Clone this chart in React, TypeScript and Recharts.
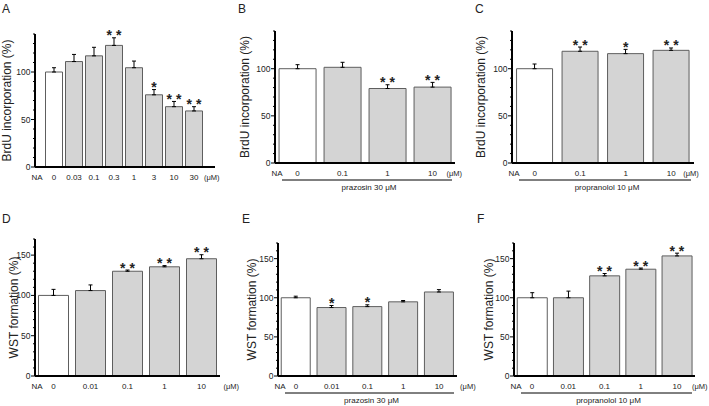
import React from "react";
import { Bar, Cell, ComposedChart, ErrorBar, LabelList, Line, XAxis, YAxis } from "recharts";

const FONT = '"Liberation Sans", Arial, Helvetica, sans-serif';

// A: NA dose response, BrdU
const dosesA = ["0", "0.03", "0.1", "0.3", "1", "3", "10", "30"];
const brduA = [100, 111, 117, 128, 104.5, 76, 63.5, 59];
const errA = [4.5, 7.5, 9, 8, 7, 5.5, 5.5, 4.5];
const sigA = ["", "", "", "**", "", "*", "**", "**"];

// B: + prazosin, BrdU
const dosesB = ["0", "0.1", "1", "10"];
const brduB = [100, 101.5, 79, 80.5];
const errB = [4.3, 5.3, 4, 5];
const sigB = ["", "", "**", "**"];

// C: + propranolol, BrdU
const dosesC = ["0", "0.1", "1", "10"];
const brduC = [100, 118.5, 116, 119.5];
const errC = [5, 4.5, 4.5, 2.5];
const sigC = ["", "**", "*", "**"];

// D: NA dose response, WST
const dosesD = ["0", "0.01", "0.1", "1", "10"];
const wstD = [100, 106, 130, 135.5, 145.5];
const errD = [7.5, 7, 1.5, 1.5, 5];
const sigD = ["", "", "**", "**", "**"];

// E: + prazosin, WST
const dosesE = ["0", "0.01", "0.1", "1", "10"];
const wstE = [100, 87.5, 88.7, 94.8, 107.4];
const errE = [2, 2.6, 2.3, 1.7, 3];
const sigE = ["", "*", "*", "", ""];

// F: + propranolol, WST
const dosesF = ["0", "0.01", "0.1", "1", "10"];
const wstF = [100, 100, 128, 136.5, 153.5];
const errF = [6.5, 8.5, 3, 1.5, 3.5];
const sigF = ["", "", "**", "**", "**"];

const yTicksBrdU = [0, 10, 20, 30, 40, 50, 60, 70, 80, 90, 100, 110, 120, 130, 140];
const yLabelsBrdU = [0, 50, 100];
const yTicksWst = [0, 10, 20, 30, 40, 50, 60, 70, 80, 90, 100, 110, 120, 130, 140, 150, 160, 170];
const yLabelsWst = [0, 50, 100, 150];

const StarLabel = (props: any) => {
  const { value } = props;
  if (!value) return null;
  const x = props.x ?? props.viewBox?.x;
  const y = props.y ?? props.viewBox?.y;
  return (
    <text x={x} y={y + 2.5} textAnchor="middle" fontSize={14} fontWeight="bold" fontFamily={FONT} fill="#222">
      {String(value).split("").join(" ")}
    </text>
  );
};

function Panel(p: any) {
  const rows = p.doses.map((d: string, i: number) => ({
    dose: d,
    value: p.values[i],
    err: [0, p.errs[i]],
    top: p.values[i] + p.errs[i],
    sig: p.sigs[i],
  }));
  const yAxisW = p.plot.x - p.left;
  const mTop = p.plot.y - p.top;
  const xAxisH = p.height - mTop - p.plot.h;
  const mRight = p.width - yAxisW - p.plot.w;
  const last = p.doses.length - 1;

  const xTick = (t: any) => (
    <g>
      <text x={t.x} y={t.y + 12.5} textAnchor="middle" fontSize={8} fontFamily={FONT} fill="#222">
        {t.payload.value}
      </text>
      {t.index === last && (
        <text x={t.x + p.umDx} y={t.y + 12.5} textAnchor="start" fontSize={7.5} fontFamily={FONT} fill="#222">
          (μM)
        </text>
      )}
    </g>
  );

  const yTick = (t: any) => {
    const major = p.yLabels.includes(t.payload.value);
    return (
      <g>
        <line x1={t.x - (major ? 4 : 2)} x2={t.x} y1={t.y} y2={t.y} stroke="#000" strokeWidth={1} />
        {major && (
          <text x={t.x - 4.5} y={t.y + 3} textAnchor="end" fontSize={8.5} fontFamily={FONT} fill="#222">
            {t.payload.value}
          </text>
        )}
      </g>
    );
  };

  const xExtras = (lp: any) => {
    const vb = lp.viewBox;
    return (
      <g>
        <text x={vb.x + 2} y={vb.y + 12.5} textAnchor="middle" fontSize={8} fontFamily={FONT} fill="#222">
          NA
        </text>
        {p.drug && (
          <g>
            <line x1={vb.x + 7} x2={vb.x + vb.width - 3} y1={vb.y + 17} y2={vb.y + 17} stroke="#000" strokeWidth={1} />
            <text x={vb.x + 4 + vb.width / 2} y={vb.y + 26.5} textAnchor="middle" fontSize={8} fontFamily={FONT} fill="#222">
              {p.drug}
            </text>
          </g>
        )}
      </g>
    );
  };

  const yTitle = (lp: any) => {
    const vb = lp.viewBox;
    const cx = vb.x + vb.width + p.titleDx;
    const cy = vb.y + vb.height / 2;
    return (
      <text
        x={cx}
        y={cy}
        transform={`rotate(-90, ${cx}, ${cy})`}
        textAnchor="middle"
        dominantBaseline="central"
        fontSize={12}
        fontFamily={FONT}
        fill="#222"
      >
        {p.yTitle}
      </text>
    );
  };

  return (
    <div style={{ position: "absolute", left: p.left, top: p.top }}>
      <ComposedChart
        width={p.width}
        height={p.height}
        data={rows}
        margin={{ top: mTop, right: mRight, bottom: 0, left: 0 }}
        barCategoryGap={p.gap}
      >
        <XAxis
          dataKey="dose"
          type="category"
          height={xAxisH}
          padding={p.xPad}
          interval={0}
          tickLine={false}
          tickSize={0}
          tickMargin={0}
          axisLine={{ stroke: "#000", strokeWidth: 2 }}
          tick={xTick}
          label={{ content: xExtras }}
        />
        <YAxis
          type="number"
          domain={[0, p.yMax]}
          ticks={p.yTicks}
          interval={0}
          width={yAxisW}
          tickLine={false}
          tickSize={0}
          tickMargin={0}
          axisLine={{ stroke: "#000", strokeWidth: 2 }}
          tick={yTick}
          label={{ content: yTitle }}
          allowDataOverflow
        />
        <Bar dataKey="value" stroke="#5e5e5e" strokeWidth={1} isAnimationActive={false}>
          {rows.map((r: any, i: number) => (
            <Cell key={r.dose} fill={i === 0 ? "#ffffff" : "#d4d4d4"} />
          ))}
          <ErrorBar dataKey="err" width={2} stroke="#000" strokeWidth={1} direction="y" isAnimationActive={false} />
        </Bar>
        <Line dataKey="top" stroke="none" dot={false} activeDot={false} isAnimationActive={false} legendType="none">
          <LabelList dataKey="sig" content={StarLabel} />
        </Line>
      </ComposedChart>
    </div>
  );
}

const letterStyle = (x: number, y: number): React.CSSProperties => ({
  position: "absolute",
  left: x,
  top: y,
  fontFamily: FONT,
  fontSize: 12,
  lineHeight: "12px",
  color: "#222",
});

export default function App() {
  return (
    <div style={{ position: "absolute", left: 0, top: 0, width: 709, height: 406, background: "#fff", overflow: "hidden" }}>
      <Panel
        left={0} top={0} width={235} height={200}
        plot={{ x: 35, y: 34, w: 180, h: 133 }}
        xPad={{ left: 9, right: 11 }} gap="7.5%"
        doses={dosesA} values={brduA} errs={errA} sigs={sigA}
        yMax={140} yTicks={yTicksBrdU} yLabels={yLabelsBrdU}
        yTitle="BrdU incorporation (%)" titleDx={-28} umDx={10}
      />
      <Panel
        left={235} top={0} width={237} height={200}
        plot={{ x: 275, y: 31, w: 180, h: 132 }}
        xPad={{ left: 0, right: 0 }} gap="9%"
        doses={dosesB} values={brduB} errs={errB} sigs={sigB}
        yMax={140} yTicks={yTicksBrdU} yLabels={yLabelsBrdU}
        yTitle="BrdU incorporation (%)" titleDx={-30} umDx={14} drug="prazosin 30 μM"
      />
      <Panel
        left={472} top={0} width={237} height={200}
        plot={{ x: 512, y: 31, w: 182, h: 132 }}
        xPad={{ left: 0, right: 0 }} gap="10%"
        doses={dosesC} values={brduC} errs={errC} sigs={sigC}
        yMax={140} yTicks={yTicksBrdU} yLabels={yLabelsBrdU}
        yTitle="BrdU incorporation (%)" titleDx={-31} umDx={12} drug="propranolol 10 μM"
      />
      <Panel
        left={0} top={200} width={245} height={206}
        plot={{ x: 35, y: 239, w: 185, h: 137 }}
        xPad={{ left: 0, right: 0 }} gap="9.5%"
        doses={dosesD} values={wstD} errs={errD} sigs={sigD}
        yMax={170} yTicks={yTicksWst} yLabels={yLabelsWst}
        yTitle="WST formation (%)" titleDx={-21} umDx={22}
      />
      <Panel
        left={236} top={200} width={245} height={206}
        plot={{ x: 278, y: 243, w: 179, h: 133 }}
        xPad={{ left: 0, right: 0 }} gap="9%"
        doses={dosesE} values={wstE} errs={errE} sigs={sigE}
        yMax={170} yTicks={yTicksWst} yLabels={yLabelsWst}
        yTitle="WST formation (%)" titleDx={-26} umDx={21} drug="prazosin 30 μM"
      />
      <Panel
        left={472} top={200} width={237} height={206}
        plot={{ x: 514, y: 243, w: 181, h: 133 }}
        xPad={{ left: 0, right: 0 }} gap="9%"
        doses={dosesF} values={wstF} errs={errF} sigs={sigF}
        yMax={170} yTicks={yTicksWst} yLabels={yLabelsWst}
        yTitle="WST formation (%)" titleDx={-25} umDx={15} drug="propranolol 10 μM"
      />
      <div style={letterStyle(2, 3)}>A</div>
      <div style={letterStyle(238, 3)}>B</div>
      <div style={letterStyle(475, 3)}>C</div>
      <div style={letterStyle(2, 213)}>D</div>
      <div style={letterStyle(242, 213)}>E</div>
      <div style={letterStyle(477, 213)}>F</div>
    </div>
  );
}
